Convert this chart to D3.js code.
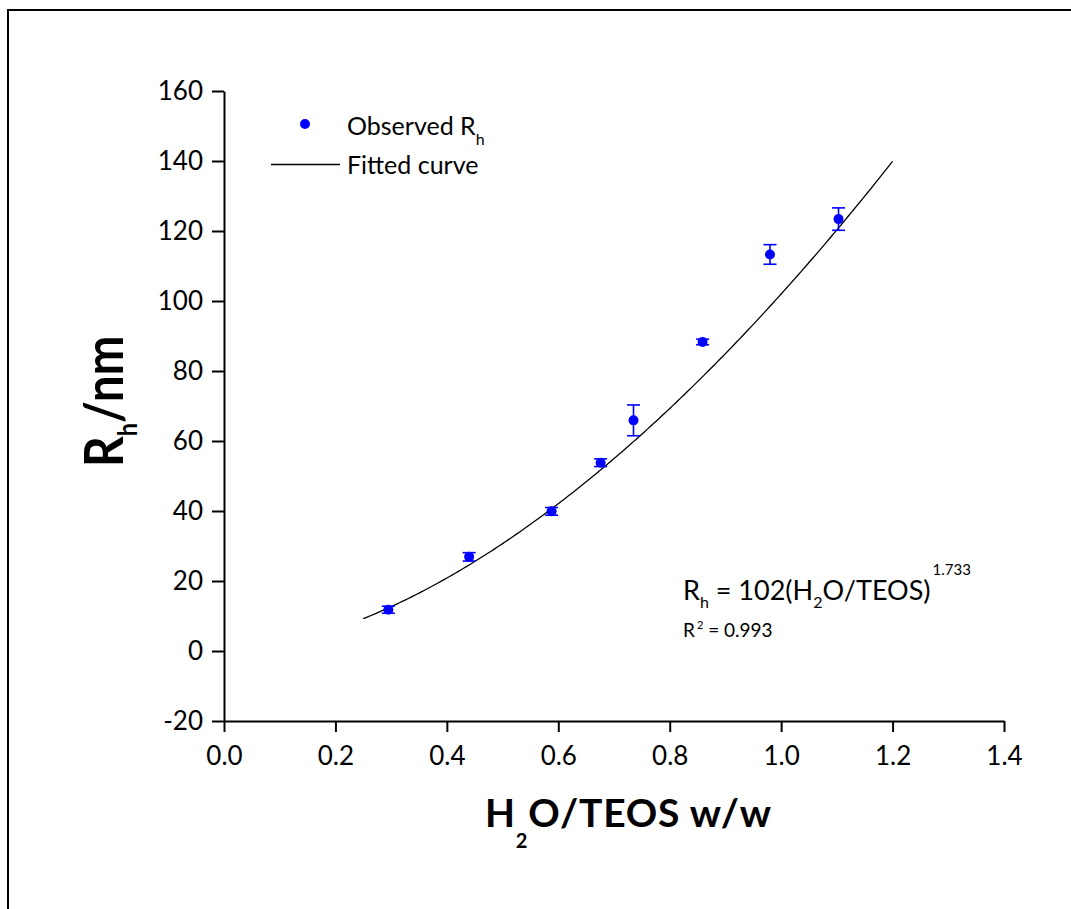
<!DOCTYPE html>
<html>
<head>
<meta charset="utf-8">
<script src="https://cdn.jsdelivr.net/npm/d3@7/dist/d3.min.js"></script>
<style>
  html, body { margin: 0; padding: 0; background: #fff; }
  svg { display: block; font-family: Lato, "Open Sans", sans-serif; }
</style>
</head>
<body>
<svg id="chart" width="1071" height="909"></svg>
<script>
// Observed hydrodynamic radius vs. water/TEOS weight ratio
const ratio   = [0.295, 0.440, 0.588, 0.676, 0.735, 0.859, 0.980, 1.103];
const rh      = [11.8, 26.9, 39.9, 53.8, 65.9, 88.3, 113.3, 123.4];
const rhError = [1.0, 1.2, 1.1, 1.1, 4.4, 0.8, 2.8, 3.2];

// Power-law fit  Rh = A * (H2O/TEOS)^B
const fitA = 102;
const fitB = 1.733;
const fitRange = [0.25, 1.2];
const rSquared = "0.993";

const xTicks = [0.0, 0.2, 0.4, 0.6, 0.8, 1.0, 1.2, 1.4];
const yTicks = [-20, 0, 20, 40, 60, 80, 100, 120, 140, 160];

const svg = d3.select("#chart");
const blue = "#0000ff";

// frame around the figure
svg.append("rect")
  .attr("x", 8).attr("y", 10)
  .attr("width", 1200).attr("height", 1000)
  .attr("fill", "none").attr("stroke", "#000").attr("stroke-width", 2);

const x = d3.scaleLinear().domain([0, 1.4]).range([224, 1004]);
const y = d3.scaleLinear().domain([-20, 160]).range([721, 91]);

// axes
const xAxis = svg.append("g")
  .attr("transform", `translate(0,${y(-20)})`)
  .call(d3.axisBottom(x).tickValues(xTicks).tickFormat(d => d.toFixed(1))
        .tickSize(11).tickSizeOuter(0).tickPadding(15));
const yAxis = svg.append("g")
  .attr("transform", `translate(${x(0)},0)`)
  .call(d3.axisLeft(y).tickValues(yTicks).tickFormat(d => String(d))
        .tickSize(12).tickSizeOuter(0).tickPadding(9));

[xAxis, yAxis].forEach(g => {
  g.select(".domain").attr("stroke", "#000").attr("stroke-width", 2);
  g.selectAll(".tick line").attr("stroke", "#000").attr("stroke-width", 2);
  g.selectAll(".tick text")
    .attr("fill", "#000")
    .style("font-family", "Lato, sans-serif")
    .style("font-size", "26px");
});

// fitted curve
const fitX = d3.range(fitRange[0], fitRange[1] + 1e-9, 0.005);
const line = d3.line().x(d => x(d)).y(d => y(fitA * Math.pow(d, fitB)));
svg.append("path")
  .datum(fitX)
  .attr("d", line)
  .attr("fill", "none")
  .attr("stroke", "#000")
  .attr("stroke-width", 1.3);

// error bars
const pts = ratio.map((r, i) => ({ x: r, y: rh[i], e: rhError[i] }));
const capHalf = 6.5;
const eb = svg.append("g").attr("stroke", blue).attr("stroke-width", 1.6);
pts.forEach(p => {
  const cx = x(p.x);
  eb.append("line").attr("x1", cx).attr("x2", cx)
    .attr("y1", y(p.y - p.e)).attr("y2", y(p.y + p.e));
  eb.append("line").attr("x1", cx - capHalf).attr("x2", cx + capHalf)
    .attr("y1", y(p.y + p.e)).attr("y2", y(p.y + p.e));
  eb.append("line").attr("x1", cx - capHalf).attr("x2", cx + capHalf)
    .attr("y1", y(p.y - p.e)).attr("y2", y(p.y - p.e));
});

// data points
svg.append("g").selectAll("circle")
  .data(pts).join("circle")
  .attr("cx", d => x(d.x)).attr("cy", d => y(d.y))
  .attr("r", 5).attr("fill", blue);

// legend
const legend = svg.append("g").style("font-size", "25px").attr("fill", "#000");
legend.append("circle").attr("cx", 305).attr("cy", 124).attr("r", 5).attr("fill", blue);
const obs = legend.append("text").attr("x", 347).attr("y", 135);
obs.append("tspan").text("Observed R");
obs.append("tspan").attr("dy", 10).style("font-size", "16px").text("h");
legend.append("line").attr("x1", 271).attr("x2", 340).attr("y1", 164.5).attr("y2", 164.5)
  .attr("stroke", "#000").attr("stroke-width", 1.3);
legend.append("text").attr("x", 347).attr("y", 174).text("Fitted curve");

// fit equation
const eq = svg.append("text").attr("x", 683).attr("y", 600)
  .style("font-size", "27px").attr("fill", "#000");
eq.append("tspan").text("R");
eq.append("tspan").attr("dy", 8).style("font-size", "16px").text("h");
eq.append("tspan").attr("dy", -8).text(` = ${fitA}(H`);
eq.append("tspan").attr("dy", 8).style("font-size", "16px").text("2");
eq.append("tspan").attr("dy", -8).text("O/TEOS)");
eq.append("tspan").attr("dy", -25).attr("dx", 2).style("font-size", "15px").text(fitB.toFixed(3));

const r2 = svg.append("text").attr("x", 683).attr("y", 637)
  .style("font-size", "19px").attr("fill", "#000");
r2.append("tspan").text("R");
r2.append("tspan").attr("dy", -8).attr("dx", 2).style("font-size", "11px").text("2");
r2.append("tspan").attr("dy", 8).text(` = ${rSquared}`);

// axis titles
const xt = svg.append("text").attr("x", 485).attr("y", 827)
  .style("font-size", "39px").style("font-weight", "bold")
  .style("letter-spacing", "0.8px").attr("fill", "#000");
xt.append("tspan").text("H");
xt.append("tspan").attr("dy", 21).style("font-size", "20px").text("2");
xt.append("tspan").attr("dy", -21).text("O/TEOS w/w");

const yt = svg.append("text")
  .attr("transform", "translate(123,467) rotate(-90) scale(0.9,1)")
  .style("font-size", "53px").style("font-weight", "bold").attr("fill", "#000");
yt.append("tspan").text("R");
yt.append("tspan").attr("dy", 14).style("font-size", "26px").text("h");
yt.append("tspan").attr("dy", -14).text("/nm");
</script>
</body>
</html>
